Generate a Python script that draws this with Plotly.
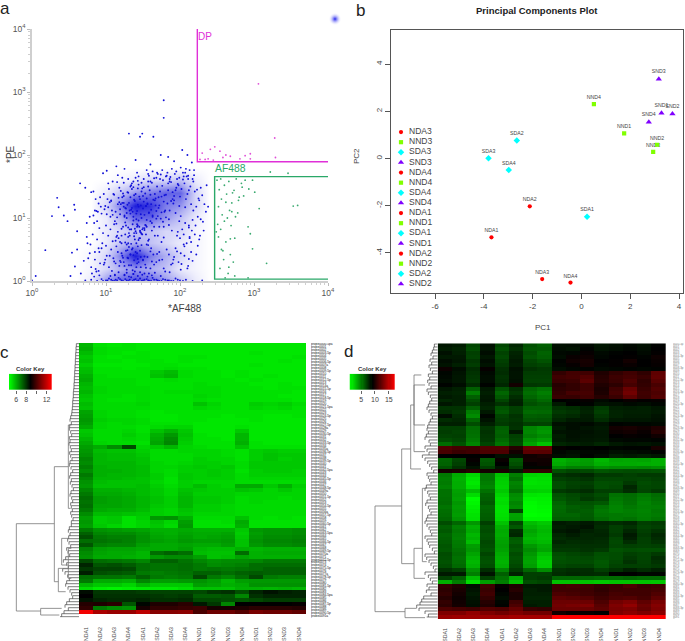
"""
Composite figure: flow cytometry gates (a), PCA (b), two expression heatmaps (c, d)
"""
import math
import plotly.graph_objects as go

W, H = 685, 641

# ---- panel a, values are log10 of the channel ----
decades = [0, 1, 2, 3, 4]
density_x = [0.4, 0.6, 0.8, 1.0, 1.2, 1.4, 1.6, 1.8, 2.0, 2.2, 2.4, 2.6]
density_y = [0.0, 0.2, 0.4, 0.6, 0.8, 1.0, 1.2, 1.4, 1.6, 1.8, 2.0]
density = [
    [0, 0, 1, 5, 7, 8, 7, 5, 3, 1, 0, 0],
    [0, 0, 0.5, 2, 4, 5, 4, 3, 1, 0.5, 0, 0],
    [0, 0, 0.5, 2, 6, 10, 6, 4, 2, 0.5, 0, 0],
    [0, 0, 0, 1, 3, 4, 3, 2, 1, 0.5, 0, 0],
    [0, 0, 0, 1, 2, 3, 3, 2, 2, 0.5, 0, 0],
    [0, 0, 0, 1, 4, 7, 7, 5, 3, 1, 0, 0],
    [0, 0, 0, 2, 6, 10, 9, 6, 5, 2, 0, 0],
    [0, 0, 0, 1, 3, 5, 6, 7, 7, 2, 0, 0],
    [0, 0, 0, 0, 0.5, 1, 2, 2, 3, 1, 0, 0],
    [0, 0, 0, 0, 0, 0, 0, 0, 0, 0, 0, 0],
    [0, 0, 0, 0, 0, 0, 0, 0, 0, 0, 0, 0],
]
outlier_x = [1.78, 1.78, 1.31, 1.49, 1.46, 1.64, 0.34, 0.36, 0.27, 0.43, 0.48, 0.57, 0.58, 0.18, 0.05, 0.0, 0.61, 0.54, 0.61, 0.52, 0.58, 0.65, 0.72, 0.70, 0.75, 0.66, 0.74, 0.80, 0.85, 0.78, 0.96, 1.01, 1.14, 1.16, 1.25, 1.40, 1.60, 1.74, 1.84, 1.92, 2.03, 2.10, 2.16]
outlier_y = [2.87, 2.59, 2.34, 2.34, 2.29, 2.29, 1.32, 1.17, 1.03, 1.04, 0.95, 1.21, 1.13, 0.49, 0.08, 0.01, 0.79, 0.45, 0.50, 0.08, 0.23, 1.55, 1.48, 0.32, 0.60, 0.12, 0.92, 1.41, 1.12, 0.44, 1.71, 1.75, 1.82, 1.68, 1.78, 1.92, 1.85, 2.00, 1.97, 1.90, 2.08, 2.00, 1.88]
main_x = [1.32, 1.41, 1.18, 1.55, 1.63, 1.27, 1.72, 1.48, 1.36, 1.84, 1.09, 1.52, 1.66, 1.22, 1.95, 1.44, 1.58, 1.31, 1.77, 1.14, 2.04, 1.38, 1.69, 1.25, 1.88, 1.46, 1.61, 1.03, 2.12, 1.35, 1.75, 1.50, 1.21, 1.92, 1.42, 1.57, 1.29, 1.81, 1.11, 1.99, 1.47, 1.65, 1.34, 1.71, 1.19, 2.08, 1.53, 1.39, 1.86, 1.24, 1.60, 1.43, 1.78, 1.16, 2.18, 1.56, 1.30, 1.90, 1.07, 1.68, 1.37, 1.82, 1.49, 1.26, 2.01, 1.62, 1.45, 1.74, 1.20, 1.97, 1.33, 1.54, 1.85, 1.13, 2.15, 1.40, 1.67, 1.28, 1.79, 1.51]
main_y = [1.12, 0.98, 1.25, 1.31, 1.02, 0.88, 1.20, 1.42, 1.10, 1.55, 1.05, 0.84, 1.38, 1.33, 1.48, 1.18, 1.08, 0.76, 0.94, 0.91, 1.61, 1.29, 1.50, 1.04, 1.27, 0.80, 1.22, 1.17, 1.44, 1.46, 1.09, 1.15, 0.72, 1.35, 0.90, 1.58, 1.21, 1.01, 1.37, 1.19, 1.06, 0.86, 1.52, 1.33, 1.14, 1.30, 1.39, 0.83, 1.62, 1.24, 0.95, 1.47, 1.26, 0.78, 1.12, 1.23, 1.40, 1.41, 1.28, 1.11, 0.96, 1.67, 0.74, 1.16, 1.03, 1.56, 1.34, 0.99, 1.43, 1.54, 1.07, 1.19, 0.89, 1.10, 1.22, 1.64, 1.31, 1.00, 1.36, 1.49]
main2_x = [1.35, 1.28, 1.47, 1.52, 1.39, 1.61, 1.44, 1.33, 1.56, 1.24, 1.42, 1.66, 1.37, 1.50, 1.19, 1.58, 1.31, 1.46, 1.71, 1.26, 1.54, 1.40, 1.63, 1.29, 1.48, 1.36, 1.75, 1.22, 1.59, 1.43, 1.68, 1.34, 1.51, 1.17, 1.45, 1.79, 1.38, 1.55, 1.27, 1.64, 1.41, 1.83, 1.32, 1.49, 1.60, 1.15, 1.73, 1.37, 1.53, 1.23, 1.86, 1.44, 1.67, 1.30, 1.57, 1.90, 1.40, 1.76, 1.20, 1.47, 1.94, 1.62, 1.35, 1.81, 1.52, 1.98, 1.70, 1.88, 1.43, 2.02, 1.77, 1.92, 1.65, 2.06, 1.84, 1.96, 1.58, 2.10, 1.87, 2.00, 1.74, 2.14, 1.91, 2.04, 1.80, 2.20, 1.94, 2.07, 1.69, 2.25, 1.99, 1.85, 2.12, 1.72, 2.17, 1.97, 2.09, 1.89, 2.22, 1.78, 1.08, 1.12, 1.02, 1.16, 1.06, 0.98, 1.21, 1.10, 0.94, 1.14, 1.04, 1.25, 0.90, 1.18, 1.00, 0.87, 1.13, 1.07, 0.96, 1.24, 0.92, 1.19, 1.03, 0.83, 1.11, 1.28, 0.99, 1.15, 0.88, 1.22, 2.28, 2.33, 2.18, 2.24, 2.30, 2.11, 2.21, 2.35, 2.16, 2.26, 2.05, 2.19, 2.31, 2.13, 2.38, 2.23, 2.08, 2.27, 2.15, 2.36]
main2_y = [1.16, 1.08, 1.20, 1.05, 1.27, 1.13, 0.96, 1.33, 1.22, 1.18, 1.11, 1.28, 1.02, 1.35, 1.06, 1.09, 1.24, 1.30, 1.16, 0.93, 1.19, 1.38, 1.04, 1.41, 1.00, 0.90, 1.34, 1.24, 1.44, 1.21, 0.99, 1.13, 1.26, 1.32, 0.86, 1.10, 1.36, 0.97, 1.15, 1.29, 1.07, 1.23, 0.82, 1.47, 1.37, 1.01, 1.42, 1.49, 0.89, 1.39, 1.12, 1.53, 1.20, 0.85, 1.50, 1.30, 0.79, 1.51, 1.22, 0.77, 1.44, 0.92, 1.55, 1.37, 0.81, 1.52, 1.03, 1.57, 1.59, 1.46, 1.60, 1.28, 1.63, 1.55, 1.44, 1.62, 1.67, 1.38, 1.65, 1.34, 1.69, 1.50, 1.23, 1.72, 1.12, 1.42, 1.08, 1.17, 1.72, 1.31, 0.95, 0.98, 0.85, 0.86, 0.97, 0.78, 1.66, 0.80, 1.18, 0.69, 1.12, 0.95, 1.30, 1.22, 1.02, 1.14, 0.83, 1.38, 1.07, 0.70, 1.46, 1.02, 1.23, 1.48, 0.88, 1.11, 0.64, 1.27, 0.76, 1.35, 1.33, 0.62, 1.55, 1.04, 0.90, 0.58, 1.19, 1.57, 0.95, 1.64, 1.48, 1.22, 1.58, 1.02, 1.36, 1.67, 0.88, 1.10, 0.80, 1.28, 0.74, 1.76, 0.94, 0.68, 1.18, 1.45, 1.78, 0.72, 0.62, 1.52]
lower_x = [1.30, 1.42, 1.21, 1.52, 1.36, 1.11, 1.60, 1.47, 1.26, 1.72, 1.05, 1.39, 1.55, 1.18, 1.33, 1.82, 0.98, 1.44, 1.65, 1.28, 1.50, 1.14, 1.38, 1.78, 0.91, 1.23, 1.58, 1.46, 1.34, 1.92, 1.08, 1.41, 1.69, 1.17, 1.54, 1.31, 1.86, 1.00, 1.25, 1.48, 1.62, 1.37, 2.02, 1.12, 1.43, 1.75, 0.86, 1.29, 1.57, 1.20]
lower_y = [0.36, 0.28, 0.44, 0.39, 0.52, 0.31, 0.47, 0.22, 0.61, 0.33, 0.40, 0.15, 0.58, 0.24, 0.42, 0.50, 0.29, 0.65, 0.26, 0.18, 0.34, 0.55, 0.71, 0.20, 0.46, 0.37, 0.12, 0.48, 0.25, 0.38, 0.16, 0.60, 0.43, 0.68, 0.21, 0.54, 0.14, 0.56, 0.10, 0.75, 0.31, 0.41, 0.27, 0.09, 0.35, 0.62, 0.19, 0.49, 0.57, 0.30]
lower2_x = [1.38, 1.33, 1.44, 1.29, 1.41, 1.35, 1.47, 1.24, 1.40, 1.31, 1.50, 1.27, 1.36, 1.43, 1.22, 1.53, 1.34, 1.46, 1.19, 1.39, 1.56, 1.28, 1.42, 1.16, 1.60, 1.32, 1.48, 1.25, 1.64, 1.37, 1.13, 1.45, 1.68, 1.30, 1.10, 1.52, 1.72, 1.21, 1.41, 1.07, 1.57, 1.76, 1.26, 1.04, 1.49, 1.80, 1.17, 1.61, 1.01, 1.34, 1.85, 1.09, 1.66, 0.97, 1.43, 1.90, 0.94, 1.55, 1.96, 0.90, 1.70, 2.01, 0.85, 1.23, 2.06, 1.06, 1.78, 0.81, 1.15, 2.12]
lower2_y = [0.33, 0.42, 0.30, 0.37, 0.22, 0.50, 0.38, 0.30, 0.46, 0.25, 0.33, 0.48, 0.17, 0.55, 0.40, 0.26, 0.59, 0.14, 0.32, 0.66, 0.38, 0.13, 0.44, 0.46, 0.20, 0.72, 0.57, 0.24, 0.42, 0.11, 0.28, 0.68, 0.30, 0.60, 0.36, 0.12, 0.46, 0.60, 0.76, 0.50, 0.64, 0.34, 0.74, 0.22, 0.82, 0.15, 0.14, 0.52, 0.40, 0.82, 0.42, 0.63, 0.13, 0.26, 0.88, 0.28, 0.52, 0.86, 0.47, 0.16, 0.72, 0.18, 0.34, 0.86, 0.55, 0.82, 0.86, 0.12, 0.72, 0.35]
fringe_x = [0.78, 0.82, 0.86, 0.90, 0.84, 0.93, 0.76, 0.88, 0.97, 0.80, 0.91, 1.01, 0.85, 0.95, 0.74, 1.05, 0.89, 0.99, 0.83, 1.03, 0.79, 0.92, 1.09, 0.87, 1.94, 2.00, 2.06, 2.12, 1.98, 2.09, 2.15, 2.03, 2.20, 2.11, 1.96, 2.24, 2.07, 2.17, 2.01, 2.28, 2.13, 1.91, 2.22, 2.05, 2.32, 1.88, 2.10, 2.26, 1.24, 1.30, 1.37, 1.44, 1.51, 1.57, 1.63, 1.70, 1.76, 1.83, 1.89, 1.95, 2.01, 2.07, 2.13, 2.19, 1.33, 1.48, 1.60, 1.73, 1.86, 1.99, 2.11, 1.42, 1.55, 1.68, 1.81, 1.93, 2.05, 2.17, 1.30, 1.38, 1.46, 1.54, 1.62, 1.50, 1.42, 1.58, 1.34, 1.66, 1.46, 1.54]
fringe_y = [1.02, 0.74, 1.30, 0.52, 0.92, 1.18, 0.36, 0.66, 1.38, 0.22, 0.84, 1.06, 0.46, 0.60, 0.70, 1.25, 1.10, 0.34, 1.42, 0.72, 0.58, 0.28, 1.58, 0.15, 0.52, 0.68, 0.40, 0.88, 0.30, 0.60, 0.46, 0.82, 0.74, 0.24, 0.72, 0.56, 0.92, 0.32, 0.44, 0.98, 0.70, 0.34, 0.42, 0.58, 0.80, 0.26, 0.20, 0.66, 1.56, 1.62, 1.58, 1.66, 1.62, 1.70, 1.74, 1.70, 1.76, 1.72, 1.78, 1.74, 1.80, 1.72, 1.76, 1.68, 1.50, 1.56, 1.58, 1.62, 1.58, 1.64, 1.62, 1.72, 1.76, 1.64, 1.66, 1.70, 1.66, 1.62, 0.70, 0.76, 0.68, 0.74, 0.80, 0.84, 0.86, 0.66, 0.82, 0.72, 0.78, 0.88]
floor_x = [0.72, 0.80, 0.88, 0.94, 1.00, 1.04, 1.09, 1.13, 1.17, 1.21, 1.26, 1.30, 1.34, 1.38, 1.42, 1.46, 1.50, 1.55, 1.59, 1.63, 1.68, 1.72, 1.77, 1.83, 1.88, 1.94, 2.00, 2.08, 2.17, 2.30, 0.96, 1.02, 1.07, 1.11, 1.15, 1.19, 1.23, 1.28, 1.32, 1.36, 1.40, 1.44, 1.48, 1.52, 1.57, 1.61, 1.65, 1.70, 1.75, 1.80, 1.85, 1.91, 1.97, 2.04, 0.84, 0.91, 1.06, 1.12, 1.25, 1.31, 1.37, 1.43, 1.49, 1.56, 1.62, 1.74]
floor_y = [0.01, 0.02, 0.00, 0.03, 0.01, 0.04, 0.00, 0.02, 0.05, 0.01, 0.03, 0.00, 0.06, 0.02, 0.00, 0.04, 0.01, 0.03, 0.00, 0.05, 0.02, 0.00, 0.03, 0.01, 0.00, 0.04, 0.01, 0.02, 0.00, 0.01, 0.00, 0.01, 0.02, 0.00, 0.01, 0.03, 0.00, 0.01, 0.02, 0.00, 0.03, 0.01, 0.00, 0.02, 0.01, 0.00, 0.02, 0.01, 0.00, 0.02, 0.01, 0.00, 0.02, 0.00, 0.07, 0.09, 0.08, 0.10, 0.09, 0.07, 0.11, 0.08, 0.10, 0.07, 0.09, 0.08]
dp_x = [3.06, 3.28, 3.29, 2.47, 2.41, 2.54, 2.30, 2.38, 2.27, 2.34, 2.45, 2.62, 2.68, 2.81, 2.88, 2.95, 2.95, 2.58]
dp_y = [3.13, 2.27, 1.96, 2.13, 2.09, 2.06, 2.03, 1.94, 1.93, 1.93, 1.92, 2.00, 1.98, 1.94, 1.99, 2.02, 1.94, 1.96]
af_x = [3.53, 3.59, 3.46, 3.22, 3.17, 2.98, 2.92, 3.07, 3.01, 2.92, 2.95, 2.68, 2.50, 2.53, 2.56, 2.60, 2.63, 2.66, 2.70, 2.73, 2.76, 2.80, 2.84, 2.88, 2.52, 2.57, 2.62, 2.67, 2.71, 2.75, 2.79, 2.83, 2.51, 2.55, 2.60, 2.64, 2.69, 2.74, 2.78, 2.86, 2.93, 2.98, 2.52, 2.58, 2.62, 2.68, 2.72, 2.54, 2.59, 2.65, 2.74, 2.56, 2.61, 2.49, 2.66, 2.55, 2.70]
af_y = [1.19, 1.20, 1.71, 1.73, 0.28, 0.51, 0.05, 1.15, 1.41, 0.86, 0.75, 0.67, 1.60, 1.45, 1.30, 1.52, 1.38, 1.58, 1.24, 1.44, 1.62, 1.33, 1.49, 1.60, 1.18, 1.05, 1.25, 1.12, 1.40, 1.02, 1.28, 1.55, 0.90, 0.82, 0.95, 1.00, 0.88, 0.68, 1.08, 1.35, 1.46, 1.60, 0.70, 0.48, 0.62, 0.42, 0.30, 0.20, 0.34, 0.12, 0.08, 0.50, 0.05, 0.78, 0.22, 1.62, 1.10]
dp_gate_x = [2.234, 2.234, 4.0]
dp_gate_y = [4.0, 1.894, 1.894]
af_gate_x = [4.0, 2.468, 2.468, 4.0]
af_gate_y = [1.656, 1.656, 0.03, 0.03]

# ---- panel b ----
pca_names = ['NDA3', 'NND3', 'SDA3', 'SND3', 'NDA4', 'NND4', 'SDA4', 'SND4',
             'NDA1', 'NND1', 'SDA1', 'SND1', 'NDA2', 'NND2', 'SDA2', 'SND2']
pc1 = [-1.61, 2.94, -3.81, 3.17, -0.45, 0.51, -2.98, 2.76,
       -3.69, 1.75, 0.23, 3.28, -2.12, 3.10, -2.65, 3.73]
pc2 = [-5.11, 0.28, 0.01, 3.36, -5.26, 2.30, -0.49, 1.54,
       -3.34, 1.06, -2.47, 1.92, -2.03, 0.58, 0.76, 1.89]
pc_x_ticks = [-6, -4, -2, 0, 2, 4]
pc_y_ticks = [-4, -2, 0, 2, 4]
group_colors = ['#ff0000', '#80ff00', '#00ffff', '#8000ff']
group_symbols = ['circle', 'square', 'diamond', 'triangle-up']
group_sizes = [4.2, 4.2, 5, 5.5]

# ---- panel c ----
samples_c = ['NDA1', 'NDA2', 'NDA3', 'NDA4', 'SDA1', 'SDA2', 'SDA3', 'SDA4',
             'NND1', 'NND2', 'NND3', 'NND4', 'SND1', 'SND2', 'SND3', 'SND4']
expr_c = [
    [5.8,5.1,5.0,5.1,5.0,5.0,5.0,5.0,5.0,5.0,5.0,5.0,5.0,5.0,5.0,5.0],
    [5.9,5.2,5.1,5.1,5.0,5.0,5.0,5.0,5.0,5.0,5.0,5.0,5.0,5.0,5.0,5.0],
    [5.7,5.2,5.1,5.0,5.1,5.0,5.0,5.0,5.0,5.0,5.0,5.0,5.1,5.0,5.0,5.0],
    [5.5,5.1,5.0,5.1,5.1,5.0,5.0,5.1,5.1,5.0,5.0,5.0,5.0,5.0,5.0,5.1],
    [5.6,5.1,5.1,5.0,5.1,5.1,5.0,5.1,5.0,5.0,5.0,5.0,5.0,5.0,5.1,5.0],
    [5.4,5.0,5.0,5.0,5.0,5.1,5.1,5.0,5.0,5.0,5.0,5.0,5.1,5.0,5.0,5.0],
    [5.6,5.1,5.1,5.0,5.1,5.1,5.2,5.1,5.1,5.0,5.0,5.0,5.0,5.0,5.0,5.0],
    [5.7,5.1,5.1,5.1,5.1,5.5,5.7,5.2,5.1,5.1,5.0,5.1,5.0,5.0,5.0,5.0],
    [5.9,5.2,5.1,5.1,5.1,5.6,5.8,5.2,5.1,5.1,5.0,5.1,5.0,5.1,5.0,5.0],
    [6.0,5.2,5.2,5.2,5.1,5.1,5.2,5.1,5.1,5.1,5.1,5.0,5.1,5.0,5.0,5.0],
    [5.8,5.2,5.2,5.2,5.1,5.1,5.1,5.1,5.2,5.1,5.1,5.1,5.0,5.0,5.1,5.0],
    [5.7,5.3,5.2,5.2,5.2,5.1,5.1,5.1,5.2,5.2,5.1,5.1,5.1,5.0,5.1,5.1],
    [5.8,5.3,5.2,5.2,5.2,5.1,5.2,5.2,5.2,5.2,5.1,5.1,5.1,5.1,5.1,5.0],
    [5.6,5.2,5.2,5.1,5.2,5.1,5.1,5.1,5.3,5.2,5.1,5.1,5.1,5.1,5.0,5.0],
    [5.5,5.2,5.1,5.1,5.2,5.1,5.1,5.1,5.2,5.1,5.1,5.1,5.1,5.1,5.1,5.0],
    [5.7,5.2,5.2,5.2,5.3,5.1,5.1,5.1,5.6,5.3,5.1,5.1,5.4,5.3,5.4,5.2],
    [5.6,5.2,5.2,5.2,5.2,5.1,5.1,5.1,5.3,5.2,5.1,5.1,5.3,5.2,5.3,5.1],
    [6.1,5.3,5.2,5.2,5.1,5.0,5.1,5.1,5.1,5.1,5.1,5.1,5.1,5.1,5.1,5.1],
    [6.2,5.3,5.2,5.2,5.1,5.0,5.0,5.1,5.1,5.1,5.0,5.1,5.1,5.0,5.0,5.1],
    [6.3,5.4,5.3,5.3,5.2,5.0,5.0,5.1,5.1,5.0,5.0,5.0,5.1,5.0,5.0,5.0],
    [6.2,5.3,5.2,5.3,5.2,5.1,5.1,5.1,5.0,5.0,5.0,5.0,5.0,5.0,5.0,5.0],
    [6.0,5.3,5.2,5.2,5.1,5.2,5.3,5.3,5.0,5.0,5.0,5.1,5.0,5.0,5.0,5.0],
    [5.5,5.2,5.2,5.3,5.1,5.6,5.9,5.5,5.0,5.0,5.0,5.5,5.0,5.0,5.0,5.0],
    [5.6,5.2,5.2,5.4,5.2,5.9,6.3,5.6,5.1,5.0,5.0,5.8,5.0,5.0,5.0,5.0],
    [5.8,5.2,5.2,5.3,5.2,6.0,6.5,5.5,5.1,5.1,5.0,5.8,5.0,5.0,5.0,5.0],
    [6.0,5.3,5.2,5.2,5.1,6.1,6.6,5.4,5.1,5.1,5.1,5.9,5.1,5.0,5.0,5.0],
    [6.2,6.0,6.5,7.6,5.3,5.5,5.8,5.3,5.2,5.1,5.1,5.6,5.1,5.1,5.1,5.1],
    [6.3,5.7,5.6,5.6,5.4,5.2,5.2,5.3,5.3,5.3,5.2,5.1,5.4,5.5,5.4,5.4],
    [6.4,5.8,5.7,5.7,5.5,5.2,5.2,5.2,5.3,5.3,5.2,5.1,5.4,5.6,5.5,5.5],
    [6.6,5.8,5.7,5.7,5.6,5.2,5.2,5.2,5.4,5.3,5.3,5.1,5.4,5.6,5.4,5.5],
    [6.5,5.8,5.8,5.8,5.6,5.3,5.2,5.3,5.4,5.4,5.3,5.2,5.5,5.5,5.5,5.5],
    [6.7,5.9,5.8,5.8,5.7,5.3,5.3,5.4,5.5,5.4,5.5,5.2,5.5,5.5,5.5,5.5],
    [6.5,5.9,5.9,5.8,5.7,5.3,5.2,5.4,5.4,5.5,5.4,5.1,5.4,5.5,5.5,5.4],
    [6.8,5.9,5.8,5.8,5.7,5.4,5.2,5.5,5.4,5.5,5.4,5.2,5.4,5.4,5.4,5.4],
    [6.6,5.8,5.8,5.7,5.6,5.4,5.1,5.5,5.4,5.4,5.4,5.2,5.3,5.3,5.3,5.3],
    [6.4,5.7,5.6,5.6,5.6,5.3,5.1,5.4,5.3,5.3,5.3,5.2,5.2,5.2,5.2,5.2],
    [6.3,5.6,5.6,5.6,5.7,5.4,5.2,5.4,5.7,5.4,5.3,6.0,6.0,5.5,5.9,5.4],
    [6.6,5.9,5.9,5.8,5.7,5.5,5.3,5.6,5.5,5.4,5.4,5.6,5.5,5.3,5.5,5.3],
    [6.8,6.0,6.0,5.9,5.7,5.5,5.3,5.7,5.4,5.4,5.4,5.3,5.3,5.3,5.3,5.3],
    [7.0,6.2,6.1,6.0,5.8,5.6,5.4,5.8,5.5,5.5,5.4,5.2,5.3,5.3,5.2,5.3],
    [6.9,6.2,6.1,6.0,5.8,5.6,5.4,5.8,5.5,5.5,5.4,5.2,5.3,5.2,5.2,5.2],
    [7.0,6.1,6.1,6.0,5.8,5.5,5.4,5.8,5.4,5.4,5.3,5.2,5.2,5.2,5.2,5.2],
    [6.8,6.0,5.9,5.9,5.7,5.4,5.3,5.6,5.4,5.4,5.3,5.2,5.2,5.2,5.2,5.2],
    [6.5,5.7,5.7,5.6,5.5,5.4,5.3,5.5,5.3,5.3,5.3,5.2,5.2,5.2,5.2,5.2],
    [6.2,5.4,5.5,5.1,5.4,6.3,6.4,5.9,5.2,5.2,5.2,5.6,5.2,5.1,5.2,5.1],
    [6.3,5.4,5.5,5.1,5.3,5.6,5.3,6.2,5.1,5.1,5.2,6.0,5.1,5.1,5.1,5.1],
    [6.2,5.5,5.3,5.1,5.3,5.5,5.2,6.3,5.1,5.1,5.1,5.9,5.1,5.1,5.1,5.1],
    [6.8,6.4,6.3,6.2,6.1,5.9,5.9,6.0,5.9,5.9,5.9,5.5,6.3,6.4,6.4,6.5],
    [7.2,6.6,6.5,6.5,6.3,6.0,5.9,6.1,6.0,6.0,6.1,5.4,6.2,6.4,6.4,6.5],
    [7.5,6.8,6.7,6.7,6.4,6.1,6.0,6.2,6.0,6.1,6.2,5.5,6.3,6.5,6.5,6.6],
    [7.0,6.9,6.8,6.7,6.4,6.2,6.1,6.3,6.2,6.2,6.3,5.6,6.4,6.6,6.6,6.7],
    [7.4,6.7,6.6,6.6,6.2,6.0,6.0,6.1,6.0,6.0,6.2,5.6,6.3,6.5,6.5,6.6],
    [6.7,6.2,6.1,6.1,6.0,6.0,6.0,6.2,5.8,5.7,5.7,5.9,5.8,5.9,5.9,5.9],
    [6.5,6.1,6.0,6.0,5.8,7.0,7.2,7.0,5.7,5.6,5.6,7.0,5.9,6.0,6.0,6.0],
    [6.4,6.0,6.0,5.9,5.8,6.3,6.5,6.5,6.2,5.6,5.7,6.1,5.9,5.9,5.9,5.9],
    [7.6,7.0,6.9,6.8,6.6,7.2,7.2,6.9,6.6,6.4,6.5,6.5,6.6,6.8,6.8,6.8],
    [8.2,7.4,7.5,7.3,7.0,6.9,6.9,7.0,6.8,6.5,6.6,6.7,7.0,7.0,7.0,7.0],
    [7.9,7.7,7.7,7.6,7.0,6.9,6.9,7.0,6.8,6.9,6.8,6.9,7.0,7.2,7.2,7.2],
    [8.3,7.5,7.4,7.3,6.8,6.7,6.8,6.9,7.2,7.2,7.0,7.2,7.3,7.2,7.2,7.2],
    [7.0,6.9,6.9,6.8,7.2,6.8,6.7,6.8,7.6,6.8,6.6,7.0,7.6,6.8,6.7,6.7],
    [6.8,6.0,6.0,5.9,6.6,6.2,6.2,6.3,6.4,6.2,5.8,6.2,6.3,6.3,6.3,6.3],
    [5.8,5.5,5.5,5.3,5.8,5.5,5.5,5.5,6.2,6.1,5.9,6.0,6.4,6.4,6.4,6.4],
    [5.2,4.9,4.8,4.9,5.0,5.0,5.0,5.2,5.6,5.6,5.6,5.9,5.9,5.8,5.9,5.8],
    [8.6,7.9,7.9,7.9,7.8,7.7,7.7,7.7,7.6,7.9,8.0,7.5,8.2,8.5,8.3,8.2],
    [8.8,8.0,8.0,8.0,8.0,7.9,7.8,7.9,7.3,7.3,7.4,6.6,8.0,8.2,8.2,8.2],
    [8.5,8.2,8.1,8.1,8.2,8.0,8.0,8.1,7.6,7.6,7.5,7.4,7.6,7.8,7.8,7.8],
    [9.4,9.3,9.5,7.4,8.7,9.3,9.3,9.5,8.4,7.9,6.6,8.8,8.8,8.8,8.8,8.9],
    [9.6,6.8,6.5,6.4,9.2,9.6,9.6,9.7,9.8,9.2,9.2,9.3,9.5,9.5,9.5,9.4],
    [12.8,11.6,11.3,11.3,11.9,11.0,11.0,11.1,10.0,10.6,10.6,10.2,10.8,10.6,10.6,10.4],
]
key_c = [4.6 + 0.2 * i for i in range(43)]
leaf_c = [229, 228, 228, 227, 227, 226, 226, 225, 225, 224, 224, 223, 223, 222, 222, 221, 220, 220, 219, 218, 218, 217, 216, 215,
          212, 210, 214, 209, 208, 212, 215, 208, 210, 207, 211, 214, 209, 212, 216, 210, 208, 213, 218, 212, 209, 214, 211, 216, 220, 213, 210, 215, 218, 212, 214, 217, 212, 215, 219, 214,
          214, 208, 205, 210, 206, 203, 207, 212, 200, 204, 209, 197, 190, 200, 205, 188, 195, 203, 208, 200, 197, 204, 210, 215,
          218, 208, 200, 195, 205, 192, 185, 180]
tree_c_x = [[163, 49, 49, 122], [205, 163, 163, 175], [214, 205, 205, 212], [185, 122, 122, 178],
            [205, 175, 175, 197], [207, 185, 185, 205], [214, 205, 205, 214]]
tree_c_y = [[566, 566, 828, 828], [395, 395, 740, 740], [270, 270, 520, 520], [820, 820, 840, 840],
            [700, 700, 770, 770], [610, 610, 690, 690], [640, 640, 730, 730]]

# ---- panel d ----
samples_d = ['SDA1', 'SDA2', 'SDA3', 'SDA4', 'NDA1', 'NDA2', 'NDA3', 'NDA4',
             'SND1', 'SND2', 'SND3', 'SND4', 'NND1', 'NND2', 'NND3', 'NND4']
expr_d = [
    [8.3,8.1,6.8,8.5,6.8,7.8,6.5,6.0,8.5,8.6,8.7,8.3,8.5,8.7,8.5,8.9],
    [8.1,7.9,6.6,8.4,6.5,7.5,6.3,6.2,8.6,8.4,8.9,8.4,8.6,8.8,8.6,9.0],
    [8.5,8.0,7.0,8.6,6.9,7.9,6.6,5.9,8.7,8.8,9.2,8.7,8.9,9.0,8.7,9.1],
    [8.2,8.2,6.9,8.3,6.7,8.0,6.4,6.0,8.6,9.3,9.4,8.8,9.0,9.1,8.9,9.4],
    [8.6,8.3,7.3,8.6,7.0,8.2,6.8,6.4,8.9,9.5,9.7,9.0,9.1,9.6,9.0,9.3],
    [8.4,8.0,7.1,8.4,7.2,8.1,7.0,6.8,8.8,9.2,9.6,8.9,9.1,9.3,9.0,9.2],
    [9.4,8.6,7.6,9.2,7.5,8.5,7.4,7.2,8.6,8.8,8.9,8.7,8.8,8.9,8.8,8.9],
    [8.8,8.4,7.4,8.7,7.6,8.4,7.1,7.1,10.6,11.1,11.0,10.0,10.6,11.0,10.5,12.0],
    [8.7,8.3,7.3,8.6,7.4,8.4,7.0,7.0,11.0,11.2,11.6,10.2,10.9,11.2,10.8,12.1],
    [8.6,8.3,7.2,8.6,7.5,8.5,6.9,6.9,10.8,10.9,11.9,10.3,10.8,11.5,10.5,11.8],
    [8.9,8.6,7.6,8.9,7.8,9.6,7.3,7.2,10.2,10.6,11.0,10.0,10.4,11.2,10.6,11.3],
    [8.3,8.0,6.0,8.2,6.4,7.5,5.8,5.4,10.4,10.6,11.0,9.8,11.0,12.3,10.8,11.6],
    [8.0,7.9,5.0,8.0,5.8,7.2,5.5,5.0,10.6,11.2,11.2,9.9,11.2,12.6,11.0,11.4],
    [8.2,8.0,6.0,8.2,6.2,7.6,5.8,5.3,10.8,10.7,11.0,10.2,10.8,12.0,10.9,11.6],
    [7.8,8.0,6.6,8.3,6.8,7.9,6.2,5.7,9.0,8.9,9.2,8.7,9.0,9.3,9.1,9.2],
    [8.3,8.0,7.0,8.0,7.4,8.0,6.5,6.2,8.2,9.0,8.9,8.4,8.5,8.7,8.6,8.8],
    [7.4,7.4,6.0,7.8,6.4,7.0,5.9,5.9,7.4,7.6,8.0,7.2,8.0,8.1,8.0,8.3],
    [7.6,7.3,5.0,8.2,6.2,7.0,5.6,5.7,7.2,7.4,7.9,7.0,7.9,8.0,8.0,8.2],
    [8.6,7.6,4.6,8.8,6.8,7.4,6.0,6.1,7.5,7.7,8.1,7.3,7.9,8.1,8.1,8.4],
    [7.6,7.8,5.8,8.4,7.0,7.3,6.3,6.4,7.8,8.2,8.2,7.6,8.2,8.3,8.3,8.5],
    [8.0,8.0,6.6,8.0,7.2,7.5,7.0,6.9,8.5,8.6,8.7,8.4,8.9,8.8,8.8,8.7],
    [7.0,7.0,5.6,7.3,6.0,7.4,4.8,4.4,8.2,8.6,8.4,8.2,9.6,9.8,9.5,10.0],
    [7.1,6.9,5.5,7.4,5.9,8.2,4.7,4.2,8.4,8.5,8.5,8.3,9.4,9.6,9.3,10.2],
    [6.9,7.0,5.4,7.3,6.0,7.0,5.0,4.6,8.1,8.5,8.4,8.3,9.0,9.2,9.1,9.5],
    [6.6,6.8,5.2,7.2,5.7,6.8,4.4,4.0,8.2,8.4,8.3,8.2,8.7,8.8,8.8,8.9],
    [5.5,6.4,4.8,6.8,5.3,6.6,3.9,2.8,7.8,8.0,8.1,7.8,8.2,8.4,8.3,8.5],
    [11.6,11.2,11.0,11.6,11.6,10.2,12.2,12.2,9.2,9.0,8.9,9.0,8.8,8.9,8.9,9.8],
    [11.3,10.8,11.0,11.4,11.4,9.6,11.9,11.8,8.8,8.6,8.8,8.8,8.5,8.6,8.7,8.9],
    [9.0,9.0,9.0,9.0,8.5,8.5,9.5,9.8,8.6,8.4,8.9,8.6,8.0,8.2,8.0,8.3],
    [5.8,6.8,9.2,6.2,9.3,6.2,9.6,9.5,3.4,3.8,4.0,3.2,3.8,3.7,3.8,3.4],
    [5.9,7.0,8.8,6.4,9.0,6.5,9.2,9.4,3.6,4.0,4.1,3.4,3.6,3.6,3.5,3.4],
    [6.4,7.4,8.4,7.0,8.4,7.0,8.8,8.8,4.6,5.0,5.0,4.4,4.6,4.6,4.7,4.5],
    [9.6,9.8,10.2,9.6,9.8,8.2,10.6,10.6,6.5,6.8,6.7,6.3,6.5,6.6,6.5,6.4],
    [5.2,3.6,2.2,5.2,2.8,5.0,2.3,2.2,7.4,7.6,7.8,7.2,7.2,7.0,7.2,7.2],
    [5.0,3.4,1.8,5.2,2.5,5.4,1.9,2.0,7.0,7.2,7.4,6.8,6.8,6.9,6.8,7.0],
    [5.1,3.5,1.6,5.0,2.4,4.8,1.8,1.9,6.6,6.9,7.0,6.5,6.6,7.2,6.6,6.8],
    [4.9,3.5,1.9,4.8,2.3,5.0,2.0,2.0,6.6,7.0,7.2,6.5,6.7,7.8,6.7,6.8],
    [5.4,3.9,3.0,5.4,2.6,5.4,2.4,2.3,7.2,7.4,7.6,7.0,7.0,7.6,6.8,7.2],
    [5.4,4.0,2.0,5.9,2.2,4.6,1.7,1.6,6.4,6.7,7.0,6.6,5.4,5.6,5.2,5.6],
    [5.5,3.9,1.0,6.0,1.9,4.4,1.3,1.4,6.2,6.6,7.2,6.8,5.2,5.5,5.0,5.4],
    [5.6,4.2,1.2,6.2,2.0,4.8,1.1,1.3,5.8,6.4,6.4,6.2,5.0,5.4,4.8,5.2],
    [5.3,4.0,1.4,5.8,1.8,4.6,1.0,1.2,5.6,6.0,6.2,5.4,4.8,5.2,4.9,5.0],
    [5.5,4.1,1.6,5.9,1.8,6.8,1.0,1.1,5.7,6.1,6.0,5.2,4.8,5.0,4.8,5.2],
    [5.6,4.0,1.8,6.0,1.9,3.8,0.9,1.0,5.8,5.8,6.1,5.3,5.2,5.1,4.9,5.1],
    [5.8,4.3,1.9,6.1,2.0,3.9,1.2,1.2,6.0,6.0,6.2,5.6,5.2,5.4,5.0,5.3],
    [6.6,5.8,4.2,7.0,2.8,6.8,3.0,2.6,8.2,8.0,8.2,7.8,7.6,7.8,7.0,7.2],
    [6.0,5.0,3.4,6.5,3.4,6.2,3.4,3.0,8.0,8.2,8.4,7.6,7.0,7.4,6.8,7.0],
    [6.2,5.2,3.6,6.6,3.6,7.6,3.8,3.2,8.2,8.4,8.0,7.8,7.0,7.8,7.0,7.4],
    [5.9,5.0,3.2,6.4,3.5,7.8,3.5,3.0,7.8,8.1,7.8,7.9,7.2,8.2,7.2,7.8],
    [6.0,4.9,3.4,6.5,3.7,6.2,3.2,2.9,7.6,7.8,7.8,7.7,6.8,8.0,7.0,7.6],
    [6.1,5.1,3.0,6.7,3.9,6.0,3.4,3.1,7.8,7.6,7.7,7.6,6.7,7.6,7.0,7.4],
    [6.3,5.2,4.0,6.6,4.0,6.4,4.2,3.6,7.4,7.4,7.5,7.5,6.8,7.0,6.9,7.0],
    [6.2,5.4,4.2,6.4,3.9,6.2,4.6,3.8,7.2,7.2,7.4,7.2,6.4,6.6,6.5,6.5],
    [6.6,5.6,3.8,6.8,3.6,6.6,4.2,3.0,6.6,6.8,7.0,6.5,6.6,7.0,6.8,7.2],
    [6.5,5.4,3.4,6.5,3.4,6.4,3.9,2.6,6.4,6.6,6.7,6.4,6.6,7.2,6.8,7.6],
    [6.4,5.5,3.2,6.4,3.3,6.5,3.8,2.4,6.5,6.6,6.6,6.2,6.7,7.4,6.9,7.4],
    [6.6,5.7,3.4,6.6,3.5,6.7,4.0,2.5,6.7,6.9,6.9,6.3,6.9,7.0,7.0,7.2],
    [7.4,7.0,4.4,7.6,4.8,7.2,5.8,4.6,7.4,7.6,7.6,7.0,7.4,8.0,7.6,8.0],
    [8.2,8.2,5.0,8.4,6.0,8.0,7.0,7.0,7.6,7.8,7.7,7.6,9.0,9.0,8.8,8.8],
    [7.0,6.0,3.0,7.0,5.4,3.6,7.0,7.2,5.8,5.8,5.8,5.6,5.6,5.8,5.6,5.6],
    [3.4,5.0,2.0,4.0,5.0,3.0,6.6,6.8,2.8,2.8,2.8,2.6,2.8,2.8,2.8,2.7],
    [10.6,10.0,8.6,11.0,9.2,10.0,8.2,8.2,11.0,11.2,11.0,10.6,10.8,11.4,10.8,11.0],
    [10.4,9.8,8.4,10.8,9.0,10.2,8.0,8.2,11.0,11.0,10.9,10.5,10.9,11.0,11.0,11.2],
    [10.6,9.6,8.2,11.0,8.8,9.8,8.0,8.0,11.4,11.2,11.0,10.7,11.2,11.0,11.0,11.5],
    [10.2,9.4,8.4,10.6,8.6,9.8,7.9,7.9,12.0,11.8,11.6,11.0,11.4,11.6,11.2,12.0],
    [10.6,9.5,8.5,10.2,8.8,11.0,8.0,8.0,12.4,12.4,12.4,11.4,12.6,13.0,12.0,12.8],
    [10.4,9.6,8.6,10.0,8.9,11.4,8.2,8.0,12.6,12.8,13.0,11.8,13.0,13.6,12.4,13.2],
    [11.4,11.2,11.0,11.6,11.4,12.2,10.8,10.6,12.4,12.4,12.4,12.0,12.8,13.0,12.2,13.0],
    [13.0,13.0,13.6,13.0,12.6,13.0,12.6,12.6,9.6,9.2,9.2,9.0,13.0,13.4,13.0,13.4],
    [13.8,14.0,14.0,14.0,14.0,14.2,14.2,14.2,17.0,17.0,17.0,17.0,17.0,17.0,17.0,17.0],
]
key_d = [0.9 + 0.4 * i for i in range(41)]
leaf_d = [268, 266, 262, 258, 264, 255, 260, 252, 256, 262, 250, 254, 248, 252, 258, 246, 250, 256, 260, 254, 250, 246, 252, 258, 262, 256, 252, 248,
          246, 250, 244, 240, 252, 256, 240, 246, 252, 232, 240, 248, 254, 260, 266, 246, 250, 254, 258, 244, 240, 248, 252, 256, 246, 242, 250, 254, 258, 248, 244, 240, 246, 252, 256, 260, 240, 246, 250, 254, 262, 268, 240, 245, 252, 258, 265, 270,
          240, 250, 256, 262, 246, 252, 244, 258, 236, 230, 225, 215, 222, 240, 250, 245]
tree_d_x = [[170, 90, 90, 180], [197, 170, 170, 207], [207, 197, 197, 228], [232, 207, 207, 240],
            [240, 207, 207, 240], [240, 180, 180, 215], [229, 207, 207, 240], [245, 232, 232, 245]]
tree_d_y = [[513, 513, 830, 830], [342, 342, 686, 686], [210, 210, 402, 402], [640, 640, 730, 730],
            [150, 150, 350, 350], [848, 848, 820, 820], [120, 120, 270, 270], [460, 460, 680, 680]]


def leaf_lines(leaves, right, y_start, step):
    # comb of leaf branches, each joined to the next row
    xs, ys = [], []
    for i, left in enumerate(leaves):
        y = y_start + step * i
        xs += [right, left, left, None]
        ys += [y, y, y + step if i < len(leaves) - 1 else y, None]
    return xs, ys


def branch_lines(tx, ty):
    xs, ys = [], []
    for a, b in zip(tx, ty):
        xs += a + [None]
        ys += b + [None]
    return xs, ys


def dom_x(x0, x1):
    return [x0 / W, x1 / W]


def dom_y(y0, y1):
    return [1 - y1 / H, 1 - y0 / H]


def hidden(domain, anchor, rng):
    return dict(domain=domain, anchor=anchor, range=rng, visible=False, showgrid=False, zeroline=False)


rg_scale = [[0, '#00ff00'], [0.5, '#000000'], [1, '#ff0000']]
grey_text = '#444444'
fig = go.Figure()

# panel a
fig.add_trace(go.Heatmap(x=density_x, y=density_y, z=density, zmin=0, zmax=10, zsmooth='best', showscale=False,
                         colorscale=[[0, '#ffffff'], [0.4, '#aeaef2'], [1, '#1c1cdc']], xaxis='x', yaxis='y'))
clouds = [(main_x, main_y), (main2_x, main2_y), (lower_x, lower_y), (lower2_x, lower2_y), (fringe_x, fringe_y),
          (floor_x, floor_y), (outlier_x, outlier_y)]
for xs, ys in clouds:
    fig.add_trace(go.Scatter(x=xs, y=ys, mode='markers', marker=dict(size=1.9, color='#1010d8'),
                             xaxis='x', yaxis='y', cliponaxis=False))
fig.add_trace(go.Scatter(x=dp_x, y=dp_y, mode='markers', marker=dict(size=1.8, color='#e050d8'), xaxis='x', yaxis='y'))
fig.add_trace(go.Scatter(x=af_x, y=af_y, mode='markers', marker=dict(size=1.8, color='#3aaa70'), xaxis='x', yaxis='y'))
fig.add_trace(go.Scatter(x=dp_gate_x, y=dp_gate_y, mode='lines', line=dict(color='#e030d8', width=1.4), xaxis='x', yaxis='y'))
fig.add_trace(go.Scatter(x=af_gate_x, y=af_gate_y, mode='lines', line=dict(color='#2aa868', width=1.4), xaxis='x', yaxis='y'))

# panel b
for i, name in enumerate(pca_names):
    k = i % 4
    fig.add_trace(go.Scatter(x=[pc1[i]], y=[pc2[i]], mode='markers+text', text=[name], textposition='top center',
                             textfont=dict(size=5.2, color=grey_text, family='Liberation Sans'),
                             marker=dict(size=group_sizes[k], color=group_colors[k], symbol=group_symbols[k]),
                             xaxis='x2', yaxis='y2'))
# legend drawn by hand, the native one cannot pack rows this tightly
for i, name in enumerate(pca_names):
    k = i % 4
    fig.add_trace(go.Scatter(x=[0], y=[i], mode='markers', xaxis='x3', yaxis='y3',
                             marker=dict(size=group_sizes[k], color=group_colors[k], symbol=group_symbols[k])))
    fig.add_trace(go.Scatter(x=[1], y=[i], mode='text', text=[name], textposition='middle right', xaxis='x3', yaxis='y3',
                             textfont=dict(size=8.5, color=grey_text, family='Liberation Sans')))

# panel c
fig.add_trace(go.Heatmap(z=expr_c, x=samples_c, zmin=4.6, zmax=13, colorscale=rg_scale, showscale=False, xaxis='x4', yaxis='y4'))
xs, ys = leaf_lines(leaf_c, 237, 26, 9)
fig.add_trace(go.Scatter(x=xs, y=ys, mode='lines', line=dict(color='#444444', width=0.7), xaxis='x5', yaxis='y5'))
xs, ys = branch_lines(tree_c_x, tree_c_y)
fig.add_trace(go.Scatter(x=xs, y=ys, mode='lines', line=dict(color='#777777', width=0.8), xaxis='x5', yaxis='y5'))
# row labels are unreadable in the source, placeholders keep the look of the column
labels_c = [f'probe{n:04d}' + ('-5p' if n % 3 == 0 else '') + ('a' if n % 7 == 0 else '') for n in range(92)]
fig.add_trace(go.Scatter(x=[0] * 92, y=list(range(92)), mode='text', text=labels_c, textposition='middle right',
                         textfont=dict(size=3.2, color='#111111', family='Liberation Sans'), xaxis='x6', yaxis='y6'))
fig.add_trace(go.Heatmap(z=[key_c], x=key_c, zmin=4.6, zmax=13, colorscale=rg_scale, showscale=False, xaxis='x7', yaxis='y7'))

# panel d
fig.add_trace(go.Heatmap(z=expr_d, x=samples_d, zmin=0.9, zmax=17.1, colorscale=rg_scale, showscale=False, xaxis='x8', yaxis='y8'))
xs, ys = leaf_lines(leaf_d, 278, 27, 9)
fig.add_trace(go.Scatter(x=xs, y=ys, mode='lines', line=dict(color='#444444', width=0.7), xaxis='x9', yaxis='y9'))
xs, ys = branch_lines(tree_d_x, tree_d_y)
fig.add_trace(go.Scatter(x=xs, y=ys, mode='lines', line=dict(color='#777777', width=0.8), xaxis='x9', yaxis='y9'))
labels_d = [f'g{n:03d}' + ('-3p' if n % 4 == 0 else '') for n in range(92)]
fig.add_trace(go.Scatter(x=[0] * 92, y=list(range(92)), mode='text', text=labels_d, textposition='middle right',
                         textfont=dict(size=2.8, color='#777777', family='Liberation Sans'), xaxis='x10', yaxis='y10'))
fig.add_trace(go.Heatmap(z=[key_d], x=key_d, zmin=0.9, zmax=17.1, colorscale=rg_scale, showscale=False, xaxis='x11', yaxis='y11'))

# blue spot at the top of panel a
fig.add_trace(go.Scatter(x=[335], y=[19], mode='markers', xaxis='x12', yaxis='y12',
                         marker=dict(size=13, color='rgba(255,255,255,0)', gradient=dict(type='radial', color='#2222ee'))))

minor_a = [d + math.log10(k) for d in decades[:-1] for k in range(2, 10)]
decade_labels = [f'10<sup>{d}</sup>' for d in decades]
axis_a = dict(range=[0, 4], tickvals=decades, ticktext=decade_labels, ticks='outside', ticklen=3, tickcolor='#bbbbbb',
              linecolor='#cfcfcf', linewidth=1.5, showgrid=False, zeroline=False, showline=True,
              tickfont=dict(size=8.5, color='#555555', family='Liberation Sans'),
              minor=dict(tickmode='array', tickvals=minor_a, ticks='outside', ticklen=2, tickcolor='#cfcfcf', showgrid=False))
axis_b = dict(showgrid=False, zeroline=False, showline=True, mirror=True, linecolor='#555555', linewidth=1,
              ticks='outside', ticklen=5, tickcolor='#555555', tickfont=dict(size=8, color=grey_text, family='Liberation Sans'))
sample_font = dict(size=5.2, color=grey_text, family='Liberation Sans')
heat_x = dict(tickangle=-90, ticks='outside', ticklen=6, tickcolor='white', tickfont=sample_font, showgrid=False,
              zeroline=False, showline=False, tickmode='linear', dtick=1)
key_font = dict(size=7, color=grey_text, family='Liberation Sans')


def note(text, px, py, size, color=grey_text, bold=False, angle=0, anchor='center'):
    # placed on the page-wide pixel axes x12/y12
    return dict(text=f'<b>{text}</b>' if bold else text, x=px, y=py, xref='x12', yref='y12', showarrow=False,
                xanchor=anchor, yanchor='middle', textangle=angle, borderpad=0, borderwidth=0,
                font=dict(size=size, color=color, family='Liberation Sans'))


fig.update_layout(
    template='none',
    width=W, height=H,
    margin=dict(l=0, r=0, t=0, b=0, autoexpand=False),
    showlegend=False,
    plot_bgcolor='rgba(0,0,0,0)',
    paper_bgcolor='white',
    xaxis=dict(domain=dom_x(32, 328), anchor='y', **axis_a),
    yaxis=dict(domain=dom_y(29, 281), anchor='x', **axis_a),
    xaxis2=dict(domain=dom_x(390.7, 682.7), anchor='y2', range=[-7.82, 4.15], tickvals=pc_x_ticks,
                ticktext=[str(v) for v in pc_x_ticks], **axis_b),
    yaxis2=dict(domain=dom_y(30, 293), anchor='x2', range=[-5.7, 5.44], tickvals=pc_y_ticks,
                ticktext=[str(v) for v in pc_y_ticks], tickangle=-90, **axis_b),
    xaxis3=hidden(dom_x(397, 437), 'y3', [-0.5, 4.5]),
    yaxis3=hidden(dom_y(127, 289), 'x3', [15.5, -0.5]),
    xaxis4=dict(domain=dom_x(79, 306), anchor='y4', **heat_x),
    yaxis4=hidden(dom_y(343, 618), 'x4', [69.5, -0.5]),
    xaxis5=hidden(dom_x(0, 79), 'y5', [0, 237]),
    yaxis5=hidden(dom_y(343, 617.7), 'x5', [848, 24]),
    xaxis6=hidden(dom_x(311, 340), 'y6', [0, 1]),
    yaxis6=hidden(dom_y(343, 618), 'x6', [91.5, -0.5]),
    xaxis7=dict(domain=dom_x(9, 51.7), anchor='y7', range=[4.6, 13], tickvals=[6, 8, 10, 12], ticktext=['6', '8', '', '12'],
                ticks='outside', ticklen=3, tickcolor='#666666', tickfont=key_font, showgrid=False, zeroline=False),
    yaxis7=hidden(dom_y(373.7, 390), 'x7', [-0.5, 0.5]),
    xaxis8=dict(domain=dom_x(437.7, 666), anchor='y8', **heat_x),
    yaxis8=hidden(dom_y(343.3, 619), 'x8', [69.5, -0.5]),
    xaxis9=hidden(dom_x(345, 437.7), 'y9', [0, 278]),
    yaxis9=hidden(dom_y(343.3, 619), 'x9', [852, 25]),
    xaxis10=hidden(dom_x(673, 685), 'y10', [0, 1]),
    yaxis10=hidden(dom_y(343.3, 619), 'x10', [91.5, -0.5]),
    xaxis11=dict(domain=dom_x(349.7, 394.7), anchor='y11', range=[0.9, 17.1], tickvals=[5, 10, 15],
                 ticks='outside', ticklen=3, tickcolor='#666666', tickfont=key_font, showgrid=False, zeroline=False),
    yaxis11=hidden(dom_y(373.7, 390), 'x11', [-0.5, 0.5]),
    xaxis12=hidden([0, 1], 'y12', [0, W]),
    yaxis12=hidden([0, 1], 'x12', [H, 0]),
    annotations=[
        note('a', 0, 8, 17, '#222222', anchor='left'),
        note('b', 356, 10, 17, '#222222', anchor='left'),
        note('c', 0, 352, 17, '#222222', anchor='left'),
        note('d', 344, 351, 17, '#222222', anchor='left'),
        note('DP', 197.5, 36, 10, '#e030d8', anchor='left'),
        note('AF488', 214.5, 168, 10.4, '#2aa868', anchor='left'),
        note('*AF488', 185, 308, 10, '#444444'),
        note('*PE', 10, 154, 10, '#444444', angle=-90),
        note('Principal Components Plot', 537, 10, 9.5, '#222222', bold=True),
        note('PC1', 543, 327, 8, grey_text),
        note('PC2', 356, 156, 8, grey_text, angle=-90),
        note('Color Key', 30.5, 369, 6, '#333333', bold=True),
        note('Color Key', 372.5, 368.5, 6, '#333333', bold=True),
    ],
)

fig.write_html("out.html", post_script="document.body.style.margin='0';", config=dict(displayModeBar=False))
